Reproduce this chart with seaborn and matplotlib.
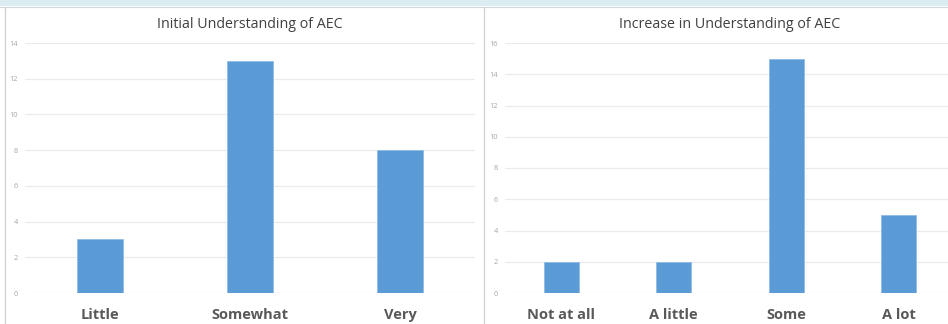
import matplotlib
matplotlib.use("Agg")
import matplotlib.pyplot as plt
import seaborn as sns
import pandas as pd
from matplotlib.patches import Rectangle
from matplotlib.lines import Line2D

left_title = "Initial Understanding of AEC"
left_categories = ["Little", "Somewhat", "Very"]
left_values = [3, 13, 8]

right_title = "Increase in Understanding of AEC"
right_categories = ["Not at all", "A little", "Some", "A lot"]
right_values = [2, 2, 15, 5]

sns.set_theme(style="white")
plt.rcParams['font.family'] = ['Open Sans', 'DejaVu Sans']

W, H = 948, 324
fig = plt.figure(figsize=(W / 100, H / 100), dpi=100)
fig.patch.set_facecolor("white")

bar_color = "#5B9BD5"

def make_panel(rect, cats, vals, title, ymax, step):
    ax = fig.add_axes(rect)
    df = pd.DataFrame({"cat": cats, "val": vals})
    sns.barplot(data=df, x="cat", y="val", color=bar_color, width=0.31,
                edgecolor="#8fbde6", linewidth=0.6, saturation=1, ax=ax, zorder=3)
    ax.set_ylim(0, ymax)
    ax.set_xlim(-0.5, len(cats) - 0.5)
    ax.set_yticks(range(0, ymax + 1, step))
    ax.set_xlabel("")
    ax.set_ylabel("")
    for s in ax.spines.values():
        s.set_visible(False)
    ax.grid(axis="y", color="#ebebeb", linewidth=0.9, zorder=0)
    ax.set_axisbelow(True)
    ax.tick_params(axis="y", length=0, labelsize=5.3, labelcolor="#a6a6a6", pad=5)
    ax.tick_params(axis="x", length=0, labelsize=10.5, labelcolor="#595959", pad=11)
    for lbl in ax.get_xticklabels():
        lbl.set_fontweight("bold")
    ax.set_title(title, fontsize=10.3, color="#404040", pad=11)
    return ax

ax1 = make_panel([25 / W, 31 / H, 450 / W, 250 / H], left_categories, left_values, left_title, 14, 2)
ax2 = make_panel([505 / W, 31 / H, 450 / W, 250 / H], right_categories, right_values, right_title, 16, 2)

# decorations: top strip and panel borders
fig.add_artist(Rectangle((0, 1 - 6 / H), 1, 6 / H, transform=fig.transFigure,
                         facecolor="#dbedf1", edgecolor="none"))
fig.add_artist(Line2D([0, 1], [1 - 6.5 / H, 1 - 6.5 / H], transform=fig.transFigure,
                      color="#cfd8da", linewidth=0.8))
fig.add_artist(Line2D([4.5 / W, 4.5 / W], [0, 1 - 6.5 / H], transform=fig.transFigure,
                      color="#d0d0d0", linewidth=0.9))
fig.add_artist(Line2D([484.5 / W, 484.5 / W], [0, 1 - 6.5 / H], transform=fig.transFigure,
                      color="#d0d0d0", linewidth=0.9))

fig.savefig("out.png", dpi=100)
